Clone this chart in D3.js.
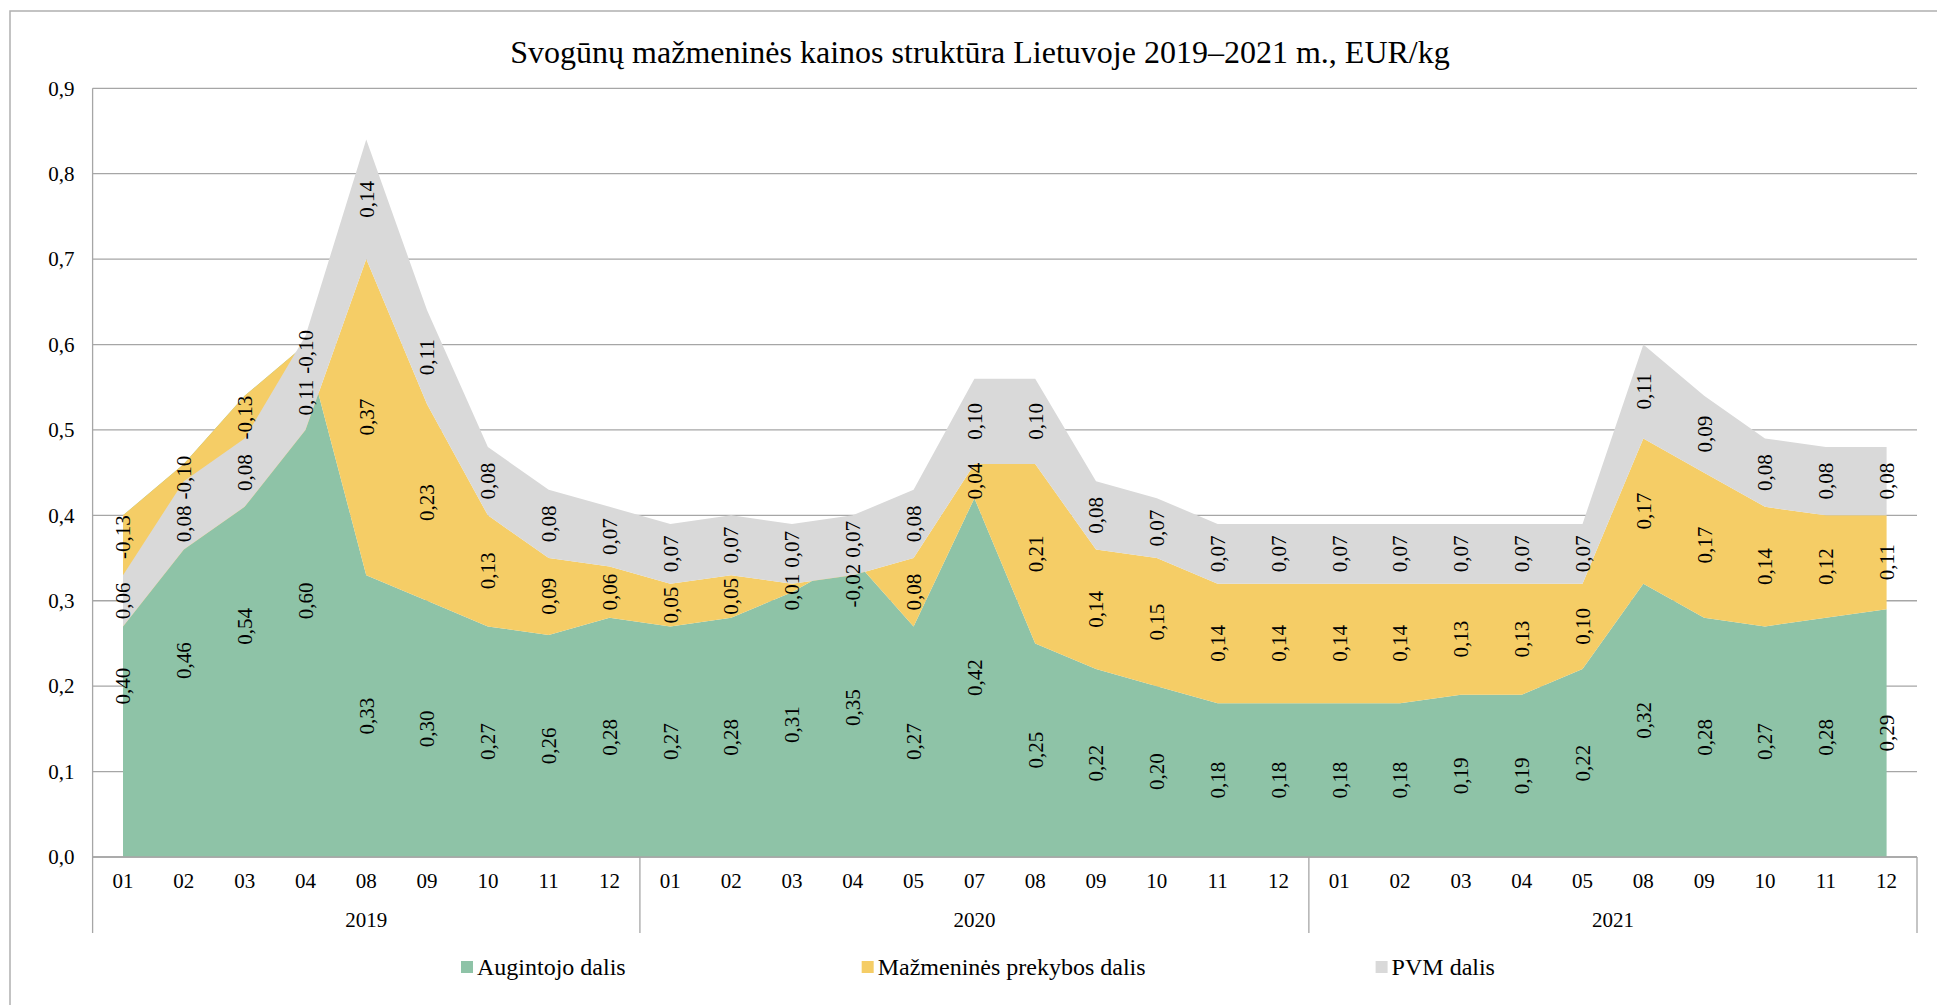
<!DOCTYPE html>
<html>
<head>
<meta charset="utf-8">
<script src="https://cdn.jsdelivr.net/npm/d3@7"></script>
<style>
  body { margin: 0; background: #fff; }
  svg { display: block; font-family: "Liberation Serif", "Times New Roman", serif; }
</style>
</head>
<body>
<div id="chart"></div>
<script>
// chart data
var months = ["01","02","03","04","08","09","10","11","12",
              "01","02","03","04","05","07","08","09","10","11","12",
              "01","02","03","04","05","08","09","10","11","12"];
var years = ["2019", "2020", "2021"];
var yearSizes = [9, 11, 10];

var grower = [0.40,0.46,0.54,0.60,0.33,0.30,0.27,0.26,0.28,
              0.27,0.28,0.31,0.35,0.27,0.42,0.25,0.22,0.20,0.18,0.18,
              0.18,0.18,0.19,0.19,0.22,0.32,0.28,0.27,0.28,0.29];
var retail = [-0.13,-0.10,-0.13,-0.10,0.37,0.23,0.13,0.09,0.06,
              0.05,0.05,0.01,-0.02,0.08,0.04,0.21,0.14,0.15,0.14,0.14,
              0.14,0.14,0.13,0.13,0.10,0.17,0.17,0.14,0.12,0.11];
var vat =    [0.06,0.08,0.08,0.11,0.14,0.11,0.08,0.08,0.07,
              0.07,0.07,0.07,0.07,0.08,0.10,0.10,0.08,0.07,0.07,0.07,
              0.07,0.07,0.07,0.07,0.07,0.11,0.09,0.08,0.08,0.08];

var seriesNames = ["Augintojo dalis", "Mažmeninės prekybos dalis", "PVM dalis"];
var seriesColors = ["#8ec3a7", "#f5cd66", "#d9d9d9"];
var yTicks = [0, 0.1, 0.2, 0.3, 0.4, 0.5, 0.6, 0.7, 0.8, 0.9];
var title = "Svogūnų mažmeninės kainos struktūra Lietuvoje 2019–2021 m., EUR/kg";

var width = 1937, height = 1005;
var plotLeft = 92.6, plotRight = 1917, plotTop = 88.3, plotBottom = 857;
var gridColor = "#a6a6a6";

var svg = d3.select("#chart").append("svg")
  .attr("width", width)
  .attr("height", height);

// chart border
svg.append("rect")
  .attr("x", 10).attr("y", 11)
  .attr("width", 2000).attr("height", 1100)
  .attr("fill", "none")
  .attr("stroke", "#b0b0b0")
  .attr("stroke-width", 1.5);

svg.append("text")
  .attr("x", 980).attr("y", 63)
  .attr("text-anchor", "middle")
  .attr("font-size", 32)
  .text(title);

var rows = months.map(function (m, i) {
  return { grower: grower[i], retail: retail[i], vat: vat[i] };
});
var keys = ["grower", "retail", "vat"];

var stack = d3.stack()
  .keys(keys)
  .order(d3.stackOrderNone)
  .offset(d3.stackOffsetNone);
var layers = stack(rows);

var x = d3.scaleBand()
  .domain(d3.range(months.length))
  .range([plotLeft, plotRight]);
var bw = x.bandwidth();
var cx = function (i) { return x(i) + bw / 2; };

var y = d3.scaleLinear()
  .domain([0, 0.9])
  .range([plotBottom, plotTop]);

var fmt = function (v) { return v.toFixed(2).replace(".", ","); };

// gridlines
svg.append("g").attr("class", "grid")
  .selectAll("line")
  .data(yTicks)
  .enter().append("line")
  .attr("x1", plotLeft).attr("x2", plotRight)
  .attr("y1", function (d) { return y(d); })
  .attr("y2", function (d) { return y(d); })
  .attr("stroke", gridColor)
  .attr("stroke-width", 1.3);

// areas
var area = d3.area()
  .x(function (d, i) { return cx(i); })
  .y0(function (d) { return y(d[0]); })
  .y1(function (d) { return y(d[1]); });

svg.append("g").attr("class", "areas")
  .selectAll("path")
  .data(layers)
  .enter().append("path")
  .attr("d", area)
  .attr("fill", function (d, i) { return seriesColors[i]; });

// y axis
var yAxis = d3.axisLeft(y)
  .tickValues(yTicks)
  .tickSize(0)
  .tickPadding(18)
  .tickFormat(function (d) { return d.toFixed(1).replace(".", ","); });

var gy = svg.append("g")
  .attr("transform", "translate(" + plotLeft + ",0)")
  .call(yAxis);
gy.select(".domain").remove();
gy.selectAll("text")
  .attr("font-family", "Liberation Serif")
  .attr("font-size", 21)
  .attr("fill", "#000");

// x axis
var xAxis = d3.axisBottom(x)
  .tickSize(0)
  .tickPadding(16)
  .tickFormat(function (i) { return months[i]; });

var gx = svg.append("g")
  .attr("transform", "translate(0," + plotBottom + ")")
  .call(xAxis);
gx.select(".domain").remove();
gx.selectAll("text")
  .attr("font-family", "Liberation Serif")
  .attr("font-size", 21)
  .attr("fill", "#000");

svg.append("line")
  .attr("x1", plotLeft).attr("x2", plotRight)
  .attr("y1", plotBottom).attr("y2", plotBottom)
  .attr("stroke", gridColor).attr("stroke-width", 1.3);

// year groups
var starts = [0];
yearSizes.forEach(function (n, k) { starts.push(starts[k] + n); });
var sepX = starts.map(function (s) {
  return s < months.length ? x(s) : plotRight;
});

svg.append("line")
  .attr("x1", plotLeft).attr("x2", plotLeft)
  .attr("y1", plotTop).attr("y2", plotBottom)
  .attr("stroke", gridColor).attr("stroke-width", 1.3);

svg.append("g").selectAll("line")
  .data(sepX)
  .enter().append("line")
  .attr("x1", function (d) { return d; })
  .attr("x2", function (d) { return d; })
  .attr("y1", plotBottom).attr("y2", 933)
  .attr("stroke", gridColor).attr("stroke-width", 1.3);

svg.append("g").selectAll("text")
  .data(years)
  .enter().append("text")
  .attr("x", function (d, k) { return (sepX[k] + sepX[k + 1]) / 2; })
  .attr("y", 927)
  .attr("text-anchor", "middle")
  .attr("font-size", 21)
  .text(function (d) { return d; });

// data labels: centred in the band, negative ones hang from the band start,
// then pushed apart where they collide within a category
var labels = svg.append("g").attr("class", "labels");
var items = [];
layers.forEach(function (layer) {
  layer.forEach(function (d, i) {
    var v = d.data[layer.key];
    var t = labels.append("text")
      .attr("text-anchor", "middle")
      .attr("dy", "0.35em")
      .attr("font-size", 21)
      .text(fmt(v));
    var half = t.node().getComputedTextLength() / 2;
    var c = v < 0 ? y(d[0]) + half : y((d[0] + d[1]) / 2);
    items.push({ node: t, i: i, c: c, half: half });
  });
});

var labelGap = 6;
d3.groups(items, function (d) { return d.i; }).forEach(function (g) {
  var list = g[1].slice().sort(function (a, b) { return a.c - b.c; });
  for (var pass = 0; pass < 4; pass++) {
    for (var k = 1; k < list.length; k++) {
      var a = list[k - 1], b = list[k];
      var overlap = (a.c + a.half + labelGap) - (b.c - b.half);
      if (overlap > 0) { a.c -= overlap / 2; b.c += overlap / 2; }
    }
  }
});

items.forEach(function (d) {
  d.node.attr("transform", "translate(" + cx(d.i) + "," + d.c + ") rotate(-90)");
});

// legend
var legend = svg.append("g").attr("class", "legend");
var legendGaps = [236, 230];
var lx = 461;
seriesNames.forEach(function (name, i) {
  var item = legend.append("g").attr("transform", "translate(" + lx + ",0)");
  item.append("rect")
    .attr("x", 0).attr("y", 961)
    .attr("width", 12).attr("height", 12)
    .attr("fill", seriesColors[i]);
  var t = item.append("text")
    .attr("x", 16).attr("y", 975)
    .attr("font-size", 24)
    .text(name);
  if (i < legendGaps.length) lx += 16 + t.node().getComputedTextLength() + legendGaps[i];
});
</script>
</body>
</html>
